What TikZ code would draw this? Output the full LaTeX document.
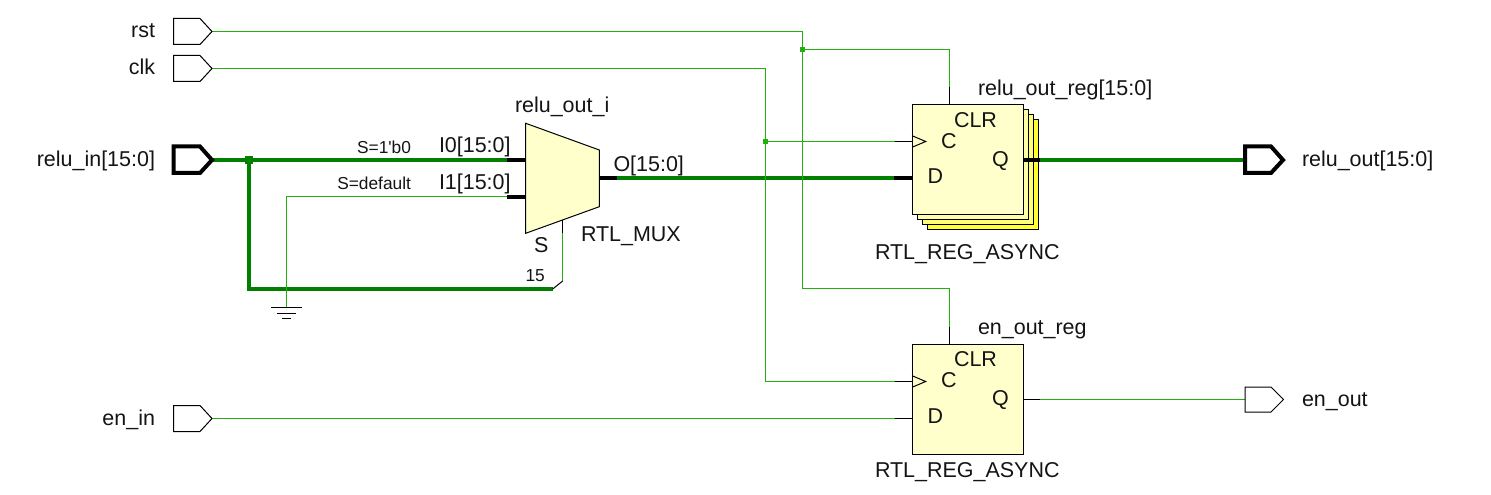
\documentclass[tikz,border=0pt]{standalone}
\usepackage{fontspec}
\setmainfont{Liberation Sans}
\newfontfamily\plainf{Liberation Sans}
\definecolor{thinG}{HTML}{22B00C}
\definecolor{busG}{HTML}{007F00}
\definecolor{txt}{HTML}{141414}
\definecolor{cellA}{HTML}{FFFFCC}
\definecolor{cellB}{HTML}{FFFFA8}
\definecolor{cellD}{HTML}{FFFF77}
\definecolor{cellC}{HTML}{FFFF33}
\tikzset{
  x=0.75pt,y=-0.75pt,
  lbl/.style={inner sep=0pt,outer sep=0pt,text=txt,font=\fontsize{16.1}{18}\selectfont},
  lblw/.style={lbl,anchor=base west},
  lble/.style={lbl,anchor=base east},
  small/.style={inner sep=0pt,outer sep=0pt,text=txt,font=\plainf\fontsize{13}{15}\selectfont},
  wire/.style={draw=thinG,line width=0.75pt},
  bus/.style={draw=busG,line width=3pt},
  pinthin/.style={draw=black,line width=0.75pt},
  pinbus/.style={draw=black,line width=3pt},
  port/.style={draw=black,line width=0.75pt,fill=white,line join=miter},
  busport/.style={draw=black,line width=3pt,fill=white,line join=miter},
  cell/.style={draw=black,line width=0.75pt},
  joint/.style={inner sep=0pt,outer sep=0pt,minimum size=6pt,rectangle,draw=none},
}
\begin{document}
\begin{tikzpicture}
\useasboundingbox[fill=white] (0,0) rectangle (1491,495);

% port tips and pin coordinates
\coordinate (rstT) at (212,31.5);
\coordinate (clkT) at (212,68.5);
\coordinate (inT) at (212,160);
\coordinate (enInT) at (212,418.5);
\coordinate (outL) at (1244,160);
\coordinate (enOutL) at (1245,399.5);

% mux pins
\coordinate (muxI0) at (525.7,160);
\coordinate (muxI0s) at (507,160);
\coordinate (muxI1) at (525.7,197);
\coordinate (muxI1s) at (507,197);
\coordinate (muxO) at (599.3,178);
\coordinate (muxOs) at (617,178);
\coordinate (muxS) at (562.7,220);
\coordinate (muxSs) at (562.7,233);
\coordinate (muxSa) at (562.7,281);
\coordinate (muxSb) at (552.7,289);

% register 1 pins
\coordinate (r1C) at (912,141.5);
\coordinate (r1Cs) at (895,141.5);
\coordinate (r1D) at (912,178);
\coordinate (r1Ds) at (894,178);
\coordinate (r1Q) at (1023,160);
\coordinate (r1Qs) at (1040,160);
\coordinate (r1K) at (949.5,105);
\coordinate (r1Ks) at (949.5,87);

% register 2 pins
\coordinate (r2C) at (912,381.5);
\coordinate (r2Cs) at (895,381.5);
\coordinate (r2D) at (912,418.5);
\coordinate (r2Ds) at (895,418.5);
\coordinate (r2Q) at (1023,399.5);
\coordinate (r2Qs) at (1040,399.5);
\coordinate (r2K) at (949.5,344);
\coordinate (r2Ks) at (949.5,327);

% junctions and bends
\node[joint,fill=busG] (jIn) at (248.5,160) {};
\node[joint,fill=thinG,minimum size=4pt] (jRst) at (802.5,49.5) {};
\node[joint,fill=thinG,minimum size=4pt] (jClk) at (765.5,141.5) {};
\coordinate (gndTop) at (286.5,307);
\coordinate (rstBend) at (802.5,288.5);

% buses
\draw[bus] (inT) -- (muxI0s);
\draw[bus] (jIn.center) -- (jIn.center |- muxSb) -- (muxSb);
\draw[bus] (muxOs) -- (r1Ds);
\draw[bus] (r1Qs) -- (outL);

% thin wires
\draw[wire] (rstT) -- (jRst.center |- rstT) -- (rstBend) -- (r2Ks |- rstBend) -- (r2Ks);
\draw[wire] (jRst.center) -- (r1Ks |- jRst.center) -- (r1Ks);
\draw[wire] (clkT) -- (jClk.center |- clkT) -- (jClk.center |- r2Cs) -- (r2Cs);
\draw[wire] (jClk.center) -- (r1Cs);
\draw[wire] (muxI1s) -- (gndTop |- muxI1s) -- (gndTop);
\draw[wire] (enInT) -- (r2Ds);
\draw[wire] (r2Qs) -- (enOutL);
\draw[wire] (muxSs) -- (muxSa);
\draw[pinthin] (muxSa) -- (muxSb);

% ground symbol
\draw[pinthin] (271,307) -- (302,307);
\draw[pinthin] (277,313) -- (296,313);
\draw[pinthin] (282,318.5) -- (291,318.5);

% ports
\draw[port] (173.5,18.5) -- (200,18.5) -- (rstT) -- (200,44.5) -- (173.5,44.5) -- cycle;
\draw[port] (173.5,55.5) -- (200,55.5) -- (clkT) -- (200,81.5) -- (173.5,81.5) -- cycle;
\draw[busport] (173.5,146.5) -- (200,146.5) -- (inT) -- (200,173) -- (173.5,173) -- cycle;
\draw[port] (173.5,405.5) -- (200,405.5) -- (enInT) -- (200,431.5) -- (173.5,431.5) -- cycle;
\draw[busport] (1245,146.5) -- (1271,146.5) -- (1283,160) -- (1271,173) -- (1245,173) -- cycle;
\draw[port] (1245,387) -- (1271,387) -- (1283.5,399.5) -- (1271,412) -- (1245,412) -- cycle;

% multiplexer
\draw[cell,fill=cellA] (525.7,123.3) -- (599.3,150) -- (599.3,206.7) -- (525.7,233.3) -- cycle;
\draw[pinbus] (muxI0s) -- (muxI0);
\draw[pinbus] (muxI1s) -- (muxI1);
\draw[pinbus] (muxO) -- (muxOs);
\draw[pinthin] (muxS) -- (muxSs);

% register 1 with its stack
\draw[cell,fill=cellC] (927,120) rectangle (1038,230);
\draw[cell,fill=cellD] (922,115) rectangle (1033,225);
\draw[cell,fill=cellB] (917,110) rectangle (1028,220);
\draw[cell,fill=cellA] (912,105) rectangle (1023,215);
\draw[pinthin] (r1Cs) -- (r1C);
\draw[pinbus] (r1Ds) -- (r1D);
\draw[pinbus] (r1Q) -- (r1Qs);
\draw[pinthin] (r1Ks) -- (r1K);
\draw[pinthin] (912,135.7) -- (925.7,141.5) -- (912,147.3);

% register 2
\draw[cell,fill=cellA] (912,344) rectangle (1023,454);
\draw[pinthin] (r2Cs) -- (r2C);
\draw[pinthin] (r2Ds) -- (r2D);
\draw[pinthin] (r2Q) -- (r2Qs);
\draw[pinthin] (r2Ks) -- (r2K);
\draw[pinthin] (912,375.7) -- (925.7,381.5) -- (912,387.3);

% labels
\node[lble] (tRst) at (155,38) {rst};
\node[lble] (tClk) at (155,75) {clk};
\node[lble] (tIn) at (155,166.5) {relu\_in[15:0]};
\node[lble] (tEnIn) at (155,425) {en\_in};
\node[lblw] (tOut) at (1302,167) {relu\_out[15:0]};
\node[lblw] (tEnOut) at (1302,406) {en\_out};

\node[lblw] (tMux) at (515,113) {relu\_out\_i};
\node[lblw] (tI0) at (439,153) {I0[15:0]};
\node[lblw] (tI1) at (439,189.5) {I1[15:0]};
\node[lblw] (tO) at (613.5,172) {O[15:0]};
\node[lblw] (tMuxT) at (581,241.5) {RTL\_MUX};
\node[lblw] (tS) at (534,252.5) {S};
\node[small,anchor=base west] (t15) at (525.5,281.5) {15};
\node[small,anchor=base east] (tS0) at (411,153.5) {S=1'b0};
\node[small,anchor=base east] (tSd) at (411,190) {S=default};

\node[lblw] (r1Name) at (978,95.5) {relu\_out\_reg[15:0]};
\node[lblw] (r1CLR) at (954,127.5) {CLR};
\node[lblw] (r1CT) at (941,149) {C};
\node[lblw] (r1QT) at (992,167) {Q};
\node[lblw] (r1DT) at (927.5,184) {D};
\node[lblw] (r1Type) at (875,259) {RTL\_REG\_ASYNC};

\node[lblw] (r2Name) at (978,334) {en\_out\_reg};
\node[lblw] (r2CLR) at (954,366.5) {CLR};
\node[lblw] (r2CT) at (941,387) {C};
\node[lblw] (r2QT) at (992,405.5) {Q};
\node[lblw] (r2DT) at (927.5,423) {D};
\node[lblw] (r2Type) at (875,477) {RTL\_REG\_ASYNC};
\end{tikzpicture}
\end{document}
